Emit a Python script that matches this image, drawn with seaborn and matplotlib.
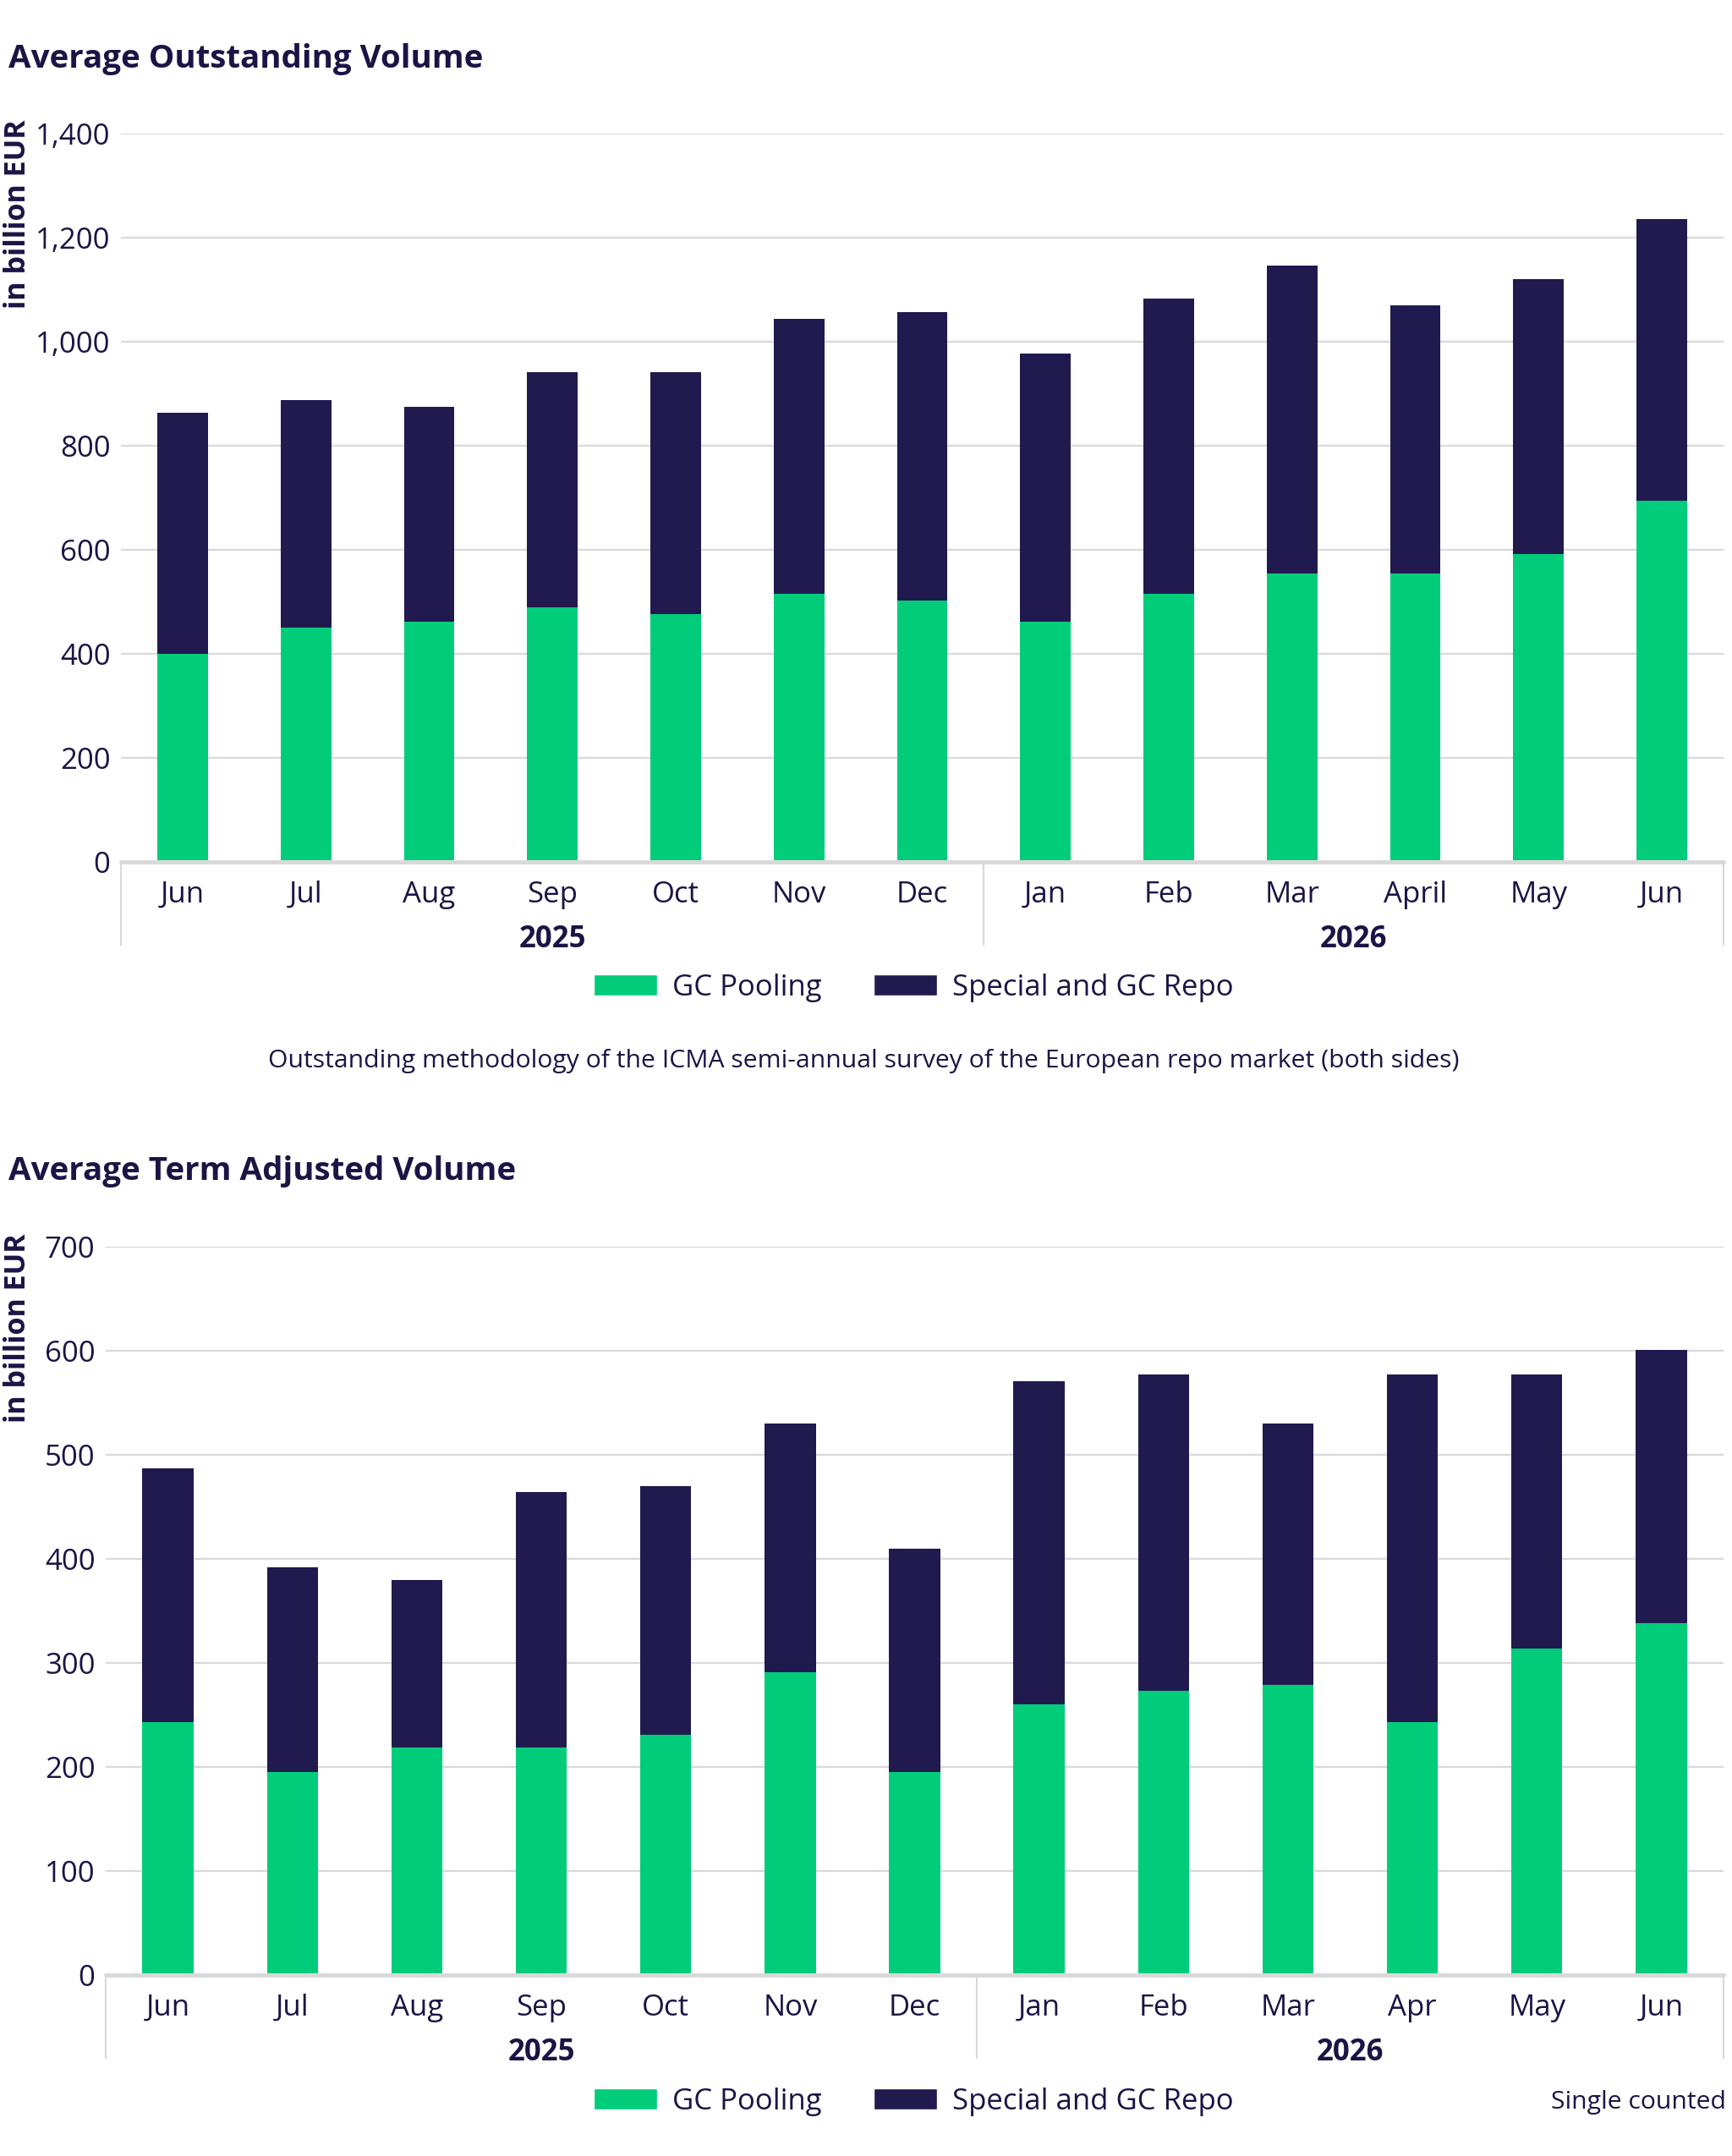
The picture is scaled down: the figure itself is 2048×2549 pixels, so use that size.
"""
Repo volumes — average outstanding & term adjusted volume (stacked bars).
"""

import matplotlib
matplotlib.use("Agg")
import matplotlib.pyplot as plt
import matplotlib.transforms as mtransforms
from matplotlib.patches import Patch
from matplotlib.ticker import FuncFormatter
import pandas as pd
import seaborn as sns

# ---------------------------------------------------------------------------
# Data (billion EUR)
# ---------------------------------------------------------------------------
MONTHS_1 = ["Jun", "Jul", "Aug", "Sep", "Oct", "Nov", "Dec",
            "Jan", "Feb", "Mar", "April", "May", "Jun"]
MONTHS_2 = ["Jun", "Jul", "Aug", "Sep", "Oct", "Nov", "Dec",
            "Jan", "Feb", "Mar", "Apr", "May", "Jun"]
YEARS = ["2025"] * 7 + ["2026"] * 6

OUT_GC      = [400, 450, 462, 489, 476, 515, 502, 462, 515, 555, 555, 592, 695]
OUT_SPECIAL = [464, 438, 413, 452, 465, 529, 555, 516, 568, 592, 515, 528, 541]

TERM_GC      = [243, 195, 219, 219, 231, 291, 195, 260, 273, 279, 243, 314, 338]
TERM_SPECIAL = [244, 197, 161, 245, 239, 239, 215, 311, 304, 251, 334, 263, 263]

# ---------------------------------------------------------------------------
# Style
# ---------------------------------------------------------------------------
GREEN = "#00CC7A"
NAVY  = "#201A4F"
TEXT  = "#1C1445"
GRID  = "#D9D9D9"

W, H = 2048, 2549
sns.set_theme(style="white")
# Noto Sans is only a variable font here (no bold) -> Open Sans, same design
plt.rcParams["font.family"] = ["Open Sans", "DejaVu Sans"]
plt.rcParams["text.color"] = TEXT

fig = plt.figure(figsize=(W / 100, H / 100), dpi=100)


def fx(px):
    return px / W


def fy(px):
    return 1 - px / H


def draw_panel(ax, months, gc, special, ymax, step):
    df = pd.DataFrame({
        "period": [f"{m} {y}" for m, y in zip(months, YEARS)],
        "gc": gc,
        "total": [g + s for g, s in zip(gc, special)],
    })
    sns.barplot(data=df, x="period", y="total", color=NAVY, saturation=1,
                width=0.41, linewidth=0, errorbar=None, ax=ax, zorder=2)
    sns.barplot(data=df, x="period", y="gc", color=GREEN, saturation=1,
                width=0.41, linewidth=0, errorbar=None, ax=ax, zorder=3)

    n = len(months)
    ax.set_xlim(-0.5, n - 0.5)
    ax.set_ylim(0, ymax)
    ax.set_xlabel("")
    ax.set_ylabel("")
    ax.set_yticks(range(0, ymax + 1, step))
    ax.yaxis.set_major_formatter(FuncFormatter(lambda v, _: f"{int(v):,}"))
    ax.tick_params(axis="y", length=0, pad=9, labelsize=25, labelcolor=TEXT)
    ax.set_xticks([])
    for s in ax.spines.values():
        s.set_visible(False)
    ax.yaxis.grid(True, color=GRID, lw=1.6, zorder=0)
    ax.set_axisbelow(True)
    ax.axhline(0, color=GRID, lw=3.6, zorder=4, clip_on=False)

    xt = ax.get_xaxis_transform()
    month_tr = mtransforms.offset_copy(xt, fig=fig, y=-48, units="dots")
    year_tr = mtransforms.offset_copy(xt, fig=fig, y=-101, units="dots")
    for i, m in enumerate(months):
        ax.text(i, 0, m, transform=month_tr, ha="center", va="baseline",
                fontsize=25, color=TEXT)
    ax.text(3, 0, "2025", transform=year_tr, ha="center", va="baseline",
            fontsize=25, fontweight="bold", color=TEXT)
    ax.text(9.5, 0, "2026", transform=year_tr, ha="center", va="baseline",
            fontsize=25, fontweight="bold", color=TEXT)

    h_px = ax.get_position().height * H
    for xs in (-0.5, 6.5, n - 0.5):
        ax.plot([xs, xs], [0, -98 / h_px], transform=xt, color=GRID,
                lw=1.6, clip_on=False, zorder=1)


def add_legend(y_px):
    handles = [Patch(facecolor=GREEN, label="GC Pooling"),
               Patch(facecolor=NAVY, label="Special and GC Repo")]
    fig.legend(handles=handles, loc="center", ncol=2, frameon=False,
               bbox_to_anchor=(fx(1080), fy(y_px)), fontsize=25,
               handlelength=2.16, handleheight=0.72, handletextpad=0.52,
               columnspacing=1.76, labelcolor=TEXT)


# ---------------------------------------------------------------------------
# Panel 1 — Average Outstanding Volume
# ---------------------------------------------------------------------------
ax1 = fig.add_axes([fx(143), fy(1019), fx(2038) - fx(143), (1019 - 158) / H])
draw_panel(ax1, MONTHS_1, OUT_GC, OUT_SPECIAL, 1400, 200)
fig.text(fx(10), fy(80), "Average Outstanding Volume", fontsize=27.7,
         fontweight="bold", color=TEXT, ha="left", va="baseline")
fig.text(fx(21), fy(253), "in billion EUR", rotation=90, fontsize=24.5,
         fontweight="bold", color=TEXT, ha="center", va="center")
add_legend(1168)
fig.text(fx(1021), fy(1262),
         "Outstanding methodology of the ICMA semi-annual survey of the "
         "European repo market (both sides)",
         fontsize=21.7, color=TEXT, ha="center", va="baseline")

# ---------------------------------------------------------------------------
# Panel 2 — Average Term Adjusted Volume
# ---------------------------------------------------------------------------
ax2 = fig.add_axes([fx(125), fy(2335), fx(2038) - fx(125), (2335 - 1474) / H])
draw_panel(ax2, MONTHS_2, TERM_GC, TERM_SPECIAL, 700, 100)
fig.text(fx(10), fy(1395), "Average Term Adjusted Volume", fontsize=27.7,
         fontweight="bold", color=TEXT, ha="left", va="baseline")
fig.text(fx(21), fy(1570), "in billion EUR", rotation=90, fontsize=24.5,
         fontweight="bold", color=TEXT, ha="center", va="center")
add_legend(2485)
fig.text(fx(2041), fy(2493), "Single counted", fontsize=21.7, color=TEXT,
         ha="right", va="baseline")

fig.savefig("out.png", dpi=100, facecolor="white")
